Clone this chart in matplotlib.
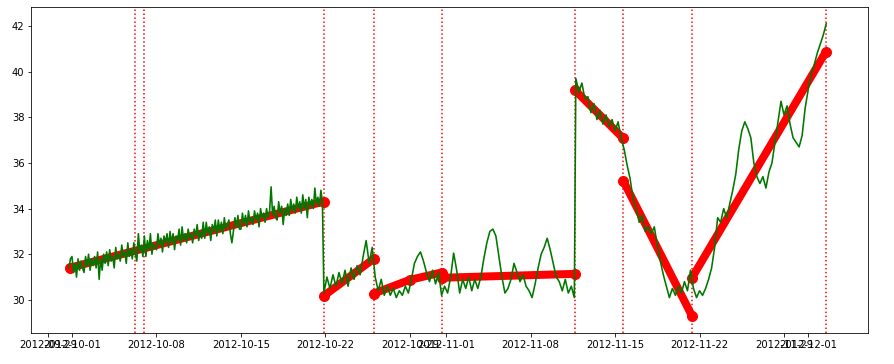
import matplotlib
matplotlib.use("Agg")
import matplotlib.pyplot as plt
import matplotlib.dates as mdates
import pandas as pd

# ---------------- data ----------------
# green measured series, in three pieces (jumps between pieces)
green_a_start = "2012-09-30 18:00"
green_a_freq = "3h"
green_a = [31.4, 31.8,
           31.9, 31.2, 31.6, 31.0, 31.8, 31.3, 31.7, 31.4,
           31.2, 31.9, 31.5, 32.0, 31.3, 31.8, 31.5, 31.9,
           31.4, 32.1, 30.9, 31.8, 31.3, 32.0, 31.6, 32.1,
           31.5, 32.2, 31.7, 31.9, 31.4, 32.3, 31.8, 32.0,
           31.7, 32.4, 31.9, 32.1, 31.6, 32.5, 31.9, 32.2,
           31.8, 32.5, 32.0, 31.7, 32.9, 32.1, 32.4, 31.9,
           32.8, 31.9, 32.6, 32.2, 32.9, 32.0, 32.5, 32.3,
           32.2, 32.9, 32.4, 32.7, 32.1, 32.8, 32.5, 32.9,
           32.3, 33.0, 32.5, 32.9, 32.2, 32.8, 32.6, 33.1,
           32.4, 33.2, 32.6, 32.9, 32.5, 33.1, 32.7, 32.9,
           32.5, 33.1, 32.8, 33.3, 32.6, 33.0, 32.7, 33.4,
           32.7, 33.4, 32.9, 33.2, 32.6, 33.3, 33.0, 33.5,
           32.8, 33.5, 33.0, 33.4, 32.9, 33.6, 33.1, 33.3,
           33.5, 32.9, 32.5, 33.0, 33.6, 33.2, 33.7, 33.1,
           33.1, 33.8, 33.3, 33.7, 33.2, 33.9, 33.4, 33.6,
           33.3, 33.9, 33.5, 33.8, 33.2, 34.0, 33.6, 33.8,
           33.4, 34.0, 33.6, 33.9, 34.95, 33.7, 34.1, 33.6,
           33.5, 34.3, 33.8, 34.1, 33.3, 34.0, 33.7, 34.2,
           33.7, 34.4, 33.9, 34.2, 33.8, 34.5, 34.0, 34.3,
           33.8, 34.6, 34.0, 34.4, 33.6, 34.5, 34.1, 34.4,
           34.0, 34.9, 34.2, 34.5, 34.1, 34.8, 34.3]

green_b_start = "2012-10-21 21:00"
green_b_freq = "6h"
green_b = [30.3, 31.0, 30.5, 31.1, 30.6, 31.2, 30.7, 31.3,
           30.6, 31.4, 30.9, 31.5, 31.1, 31.9, 32.6, 31.6,
           32.3, 31.0, 30.4, 30.9, 30.2, 30.6, 30.2, 30.5,
           30.1, 30.4, 30.2, 30.6, 30.3, 30.9, 31.6, 31.9,
           32.1, 31.7, 31.2, 30.8, 31.3, 30.7, 31.2, 30.2,
           30.6, 30.3, 31.0, 32.05, 31.3, 30.3, 30.9, 30.5,
           31.0, 30.4, 30.9, 30.5, 31.0, 31.8, 32.5, 33.0,
           33.1, 32.8, 31.9, 31.0, 30.3, 30.5, 30.9, 31.6,
           31.2, 30.8, 31.1, 30.6, 30.4, 30.1, 30.7, 31.4,
           32.0, 32.3, 32.7, 32.2, 31.6, 31.0, 30.8, 30.4,
           30.9, 30.3, 30.6, 30.1]

green_c_start = "2012-11-11 18:00"
green_c_freq = "6h"
green_c = [39.7, 39.1, 39.5, 38.8, 38.9, 38.2, 38.6, 37.9,
           38.3, 37.7, 38.1, 37.6, 37.9, 37.4, 37.8, 37.1,
           36.6, 35.9, 35.3, 34.4, 34.0, 33.4, 33.7, 33.0,
           33.2, 32.9, 33.2, 32.4, 31.7, 31.1, 30.6, 30.1,
           30.5, 30.2, 30.6, 30.3, 30.8, 30.4, 31.3, 30.5,
           30.1, 30.4, 30.2, 30.5, 30.9, 31.4, 32.3, 33.6,
           33.4, 34.0, 33.6, 34.2, 34.8, 35.5, 36.6, 37.4,
           37.8, 37.5, 37.1, 36.0, 35.4, 35.1, 35.4, 34.9,
           35.6, 36.0, 36.9, 37.8, 38.7, 38.1, 38.5, 37.7,
           37.1, 36.9, 36.7, 37.2, 38.4, 39.2, 39.9, 40.3,
           40.8, 41.2, 41.6, 42.1]

# red fitted piecewise segments (date, value) per segment
red_seg_dates = [
    ["2012-09-30 20:00", "2012-10-21 21:00"],
    ["2012-10-21 21:00", "2012-10-26 00:00"],
    ["2012-10-26 00:00", "2012-10-29 00:00", "2012-10-31 15:00"],
    ["2012-10-31 15:00", "2012-11-11 16:00"],
    ["2012-11-11 16:00", "2012-11-15 16:00"],
    ["2012-11-15 16:00", "2012-11-21 09:00"],
    ["2012-11-21 09:00", "2012-12-02 11:00"],
]
red_seg_values = [
    [31.41, 34.31],
    [30.18, 31.80],
    [30.28, 30.88, 31.20],
    [30.97, 31.14],
    [39.19, 37.08],
    [35.23, 29.30],
    [30.97, 40.86],
]

# breakpoints (vertical dotted lines)
breakpoints = ["2012-10-06 05:00", "2012-10-06 23:00", "2012-10-21 21:00",
               "2012-10-26 00:00", "2012-10-31 15:00", "2012-11-11 16:00",
               "2012-11-15 16:00", "2012-11-21 09:00", "2012-12-02 11:00"]

tick_dates = ["2012-09-29", "2012-10-01", "2012-10-08", "2012-10-15",
              "2012-10-22", "2012-10-29", "2012-11-01", "2012-11-08",
              "2012-11-15", "2012-11-22", "2012-11-29", "2012-12-01"]
y_ticks = [30, 32, 34, 36, 38, 40, 42]

# ---------------- plot ----------------
W, H, DPI = 894, 364, 72
fig = plt.figure(figsize=(W / DPI, H / DPI), dpi=DPI)
ax = fig.add_axes([31.5 / W, 1 - 333 / H, (868 - 31.5) / W, (333 - 7) / H])

GREEN = "#007800"

for dates, vals in zip(red_seg_dates, red_seg_values):
    ax.plot(pd.to_datetime(dates), vals, color="red", lw=8,
            solid_capstyle="round", marker="o", ms=10, zorder=2)

pieces = [(green_a_start, green_a_freq, green_a),
          (green_b_start, green_b_freq, green_b),
          (green_c_start, green_c_freq, green_c)]
all_t, all_v = [], []
for start, freq, vals in pieces:
    t = pd.date_range(start, periods=len(vals), freq=freq)
    all_t.extend(list(t))
    all_v.extend(vals)
ax.plot(all_t, all_v, color=GREEN, lw=1.6, zorder=3)

for b in breakpoints:
    ax.axvline(pd.Timestamp(b), color="red", ls=":", lw=1.5, zorder=1)

ax.set_xlim(pd.Timestamp("2012-09-27 15:30"), pd.Timestamp("2012-12-05 23:00"))
ax.set_ylim(28.55, 42.83)
ax.set_xticks(pd.to_datetime(tick_dates))
ax.xaxis.set_major_formatter(mdates.DateFormatter("%Y-%m-%d"))
ax.set_yticks(y_ticks)
ax.tick_params(labelsize=10)

fig.savefig("out.png", dpi=DPI)
